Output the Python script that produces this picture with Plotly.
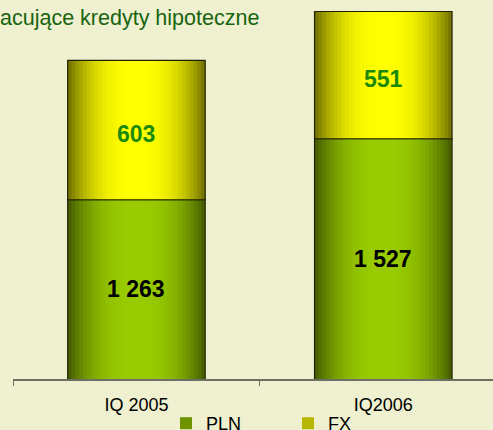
import plotly.graph_objects as go

# values
quarters = ["IQ 2005", "IQ2006"]
pln = [1263, 1527]
fx = [603, 551]

FONT = "Arial, 'Liberation Sans', sans-serif"
BG = "#eef0cf"
BAR_W = 0.557
N_STRIPS = 18  # vertical strips per bar to fake the cylinder shading
Y0 = 487       # value sitting on the category axis (the chart does not start at 0)


def mix(c1, c2, f):
    return "#%02x%02x%02x" % tuple(round(a + (b - a) * f) for a, b in zip(c1, c2))


def fmt(v):
    return f"{v:,}".replace(",", " ")


fig = go.Figure()


def add_cylinder(name, values, base, edge, mid):
    for i in range(N_STRIPS):
        r = 1 - (i + 0.5) / N_STRIPS
        f = 1 - r ** 2.5
        fig.add_bar(x=quarters, y=values, base=base, name=name,
                    width=BAR_W * (1 - i / N_STRIPS),
                    marker=dict(color=mix(edge, mid, f), line=dict(width=0)),
                    legendgroup=name, showlegend=(i == N_STRIPS // 4),
                    hoverinfo="skip")
    # outline on top of the strips
    fig.add_bar(x=quarters, y=values, base=base, name=name, width=BAR_W,
                marker=dict(color="rgba(0,0,0,0)", line=dict(color="#202000", width=1.2)),
                legendgroup=name, showlegend=False, hoverinfo="skip")


add_cylinder("PLN", pln, [0, 0], (0x42, 0x58, 0x00), (0x99, 0xcc, 0x00))
add_cylinder("FX", fx, pln, (0x6c, 0x6c, 0x00), (0xff, 0xff, 0x00))

# value labels: middle of the visible part of each segment
for q, p, f in zip(quarters, pln, fx):
    fig.add_annotation(x=q, y=(Y0 + p) / 2, text=fmt(p), showarrow=False,
                       font=dict(family=FONT, size=23, color="#000000", weight="bold"))
    fig.add_annotation(x=q, y=p + f / 2, text=fmt(f), showarrow=False, yshift=-4,
                       font=dict(family=FONT, size=23, color="#1a8a0a", weight="bold"))

k = 0.231    # px per unit
fig.update_layout(
    width=493, height=430,
    paper_bgcolor=BG, plot_bgcolor=BG,
    barmode="overlay",
    font=dict(family=FONT, size=18, color="#000000"),
    margin=dict(l=13, r=0, t=0, b=51, pad=0, autoexpand=False),
    title=dict(text="acujące kredyty hipoteczne", x=0, xref="container",
               xanchor="left", y=1 - 17 / 430, yref="container", yanchor="middle",
               font=dict(family=FONT, size=21.5, color="#186410")),
    legend=dict(orientation="h", xref="container", yref="container",
                x=166 / 493, xanchor="left", y=1 - 405 / 430, yanchor="top",
                entrywidth=77, entrywidthmode="pixels",
                bgcolor="rgba(0,0,0,0)", font=dict(family=FONT, size=18)),
    showlegend=True,
)
fig.update_xaxes(range=[-0.5, 1.5 - 13.7 / 246.7], showline=True, linecolor="#6e6e62",
                 linewidth=1.5, ticks="outside", tickson="boundaries", ticklen=5,
                 tickcolor="#6e6e62", showgrid=False, zeroline=False, automargin=False,
                 ticklabelstandoff=9, tickfont=dict(family=FONT, size=18))
fig.update_yaxes(range=[Y0, Y0 + 379 / k], visible=False, showgrid=False)

fig.write_html("out.html", config={"displayModeBar": False},
               post_script="document.body.style.margin='0px';")
